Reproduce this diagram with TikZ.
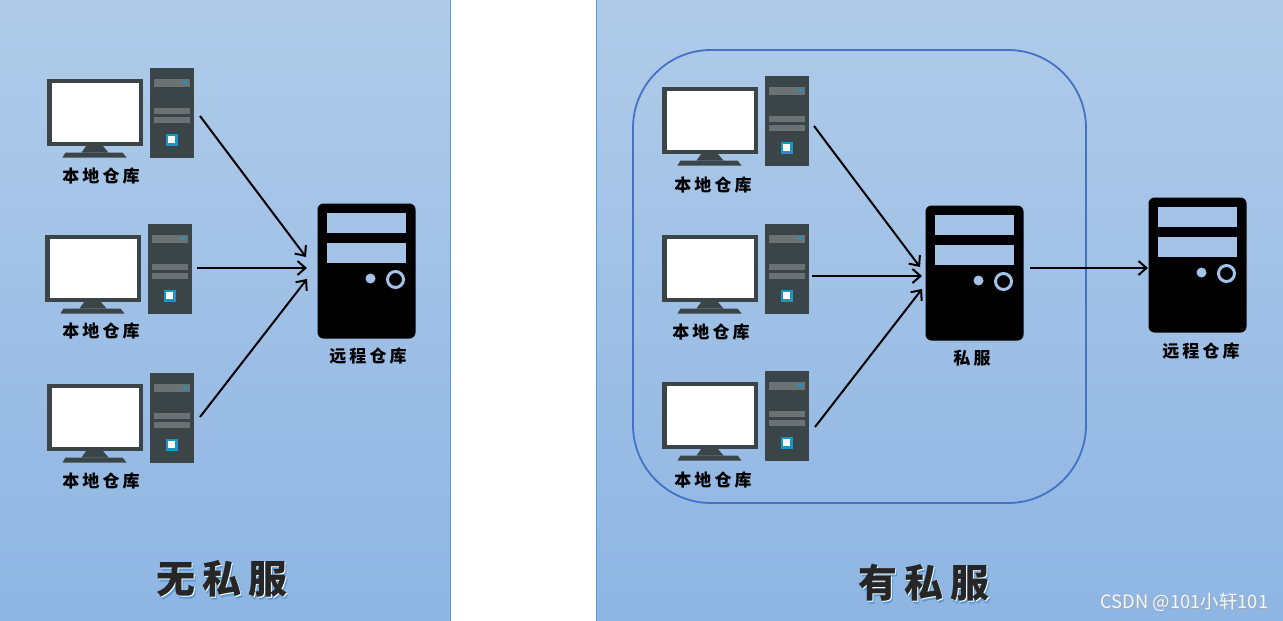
\documentclass[tikz,border=0pt]{standalone}
\usepackage{fontspec}
\usetikzlibrary{arrows.meta}
\newfontfamily\cjklabel[LetterSpace=18]{Noto Sans CJK SC}
\newfontfamily\cjktitle[LetterSpace=18]{Noto Sans CJK SC}
\newfontfamily\cjkmark{Noto Sans CJK SC}
\definecolor{paneltop}{RGB}{176,203,233}
\definecolor{panelbot}{RGB}{142,181,227}
\definecolor{panelline}{RGB}{91,155,213}
\definecolor{cutout}{RGB}{165,195,230}
\definecolor{pcdark}{RGB}{59,69,72}
\definecolor{pcslot}{RGB}{107,114,116}
\definecolor{pcblue}{RGB}{25,150,200}
\definecolor{privline}{RGB}{68,114,196}
\tikzset{
	panel/.style={draw=panelline, line width=0.6pt, top color=paneltop, bottom color=panelbot},
	lbl/.style={font=\cjklabel\fontsize{17}{17}\selectfont\bfseries, text=black, inner sep=0pt},
	ttl/.style={font=\cjktitle\fontsize{39}{39}\selectfont\bfseries, text=#1, inner sep=0pt},
	pc/.pic={
		% Bildschirm
		\fill[pcdark] (0,0) rectangle (96,67);
		\fill[white] (5,4) rectangle (92,63);
		\fill[pcdark] (40,67) -- (56,67) -- (62,74) -- (35,74) -- cycle;
		\fill[pcdark] (19,74) -- (76,74) -- (80,79) -- (16,79) -- cycle;
		% Turm
		\node[fill=pcdark, minimum width=44pt, minimum height=90pt, inner sep=0pt, outer sep=0pt, anchor=north west] (-tower) at (103,-11) {};
		\fill[pcslot] (107,0) rectangle (143,8);
		\fill[pcslot] (107,29) rectangle (143,35);
		\fill[pcslot] (107,38) rectangle (143,44);
		\fill[pcblue] (136,2) rectangle (140,5);
		\fill[pcblue] (119,55) rectangle (131,67);
		\fill[white] (121.5,57.5) rectangle (128.5,64.5);
	},
	srv/.pic={
		\node[fill=black, rounded corners=6pt, minimum width=98pt, minimum height=135pt, inner sep=0pt, outer sep=0pt, anchor=north west] (-box) at (0,0) {};
		\fill[cutout] (9,9) rectangle (88,29);
		\fill[cutout] (9,39) rectangle (88,59);
		\fill[cutout] (53,75) circle (5);
		\draw[cutout, line width=3pt] (78,76) circle (8);
	}
}
\begin{document}
\begin{tikzpicture}[x=1pt, y=-1pt, >={Straight Barb[length=8pt,width=14pt]}, line width=2pt]
	\useasboundingbox (0,0) rectangle (1283,621);
	% Hintergrund
	\fill[white] (0,0) rectangle (1283,621);
	\path[panel] (-2,-2) rectangle (450.5,623);
	\path[panel] (596.5,-2) rectangle (1285,623);
	\draw[privline, line width=1.8pt, rounded corners=78pt] (633,50) rectangle (1086,503);
	% Rechner links
	\pic (pca) at (46.5,78.5) {pc};
	\pic (pcb) at (44.5,234.5) {pc};
	\pic (pcc) at (46.5,383.5) {pc};
	\pic (srva) at (317.5,203.5) {srv};
	% Rechner rechts
	\pic (pcd) at (661.5,86.5) {pc};
	\pic (pce) at (661.5,234.5) {pc};
	\pic (pcf) at (661.5,381.5) {pc};
	\pic (srvb) at (925.5,205.5) {srv};
	\pic (srvc) at (1148.5,197.5) {srv};
	% Pfeile
	\draw[->] ([shift={(6.5,3.5)}]pca-tower.east) -- ([shift={(-11.5,-14)}]srva-box.west);
	\draw[->] ([shift={(5.5,-0.5)}]pcb-tower.east) -- ([shift={(-10.5,-3)}]srva-box.west);
	\draw[->] ([shift={(6.5,-0.5)}]pcc-tower.east) -- ([shift={(-10.5,8)}]srva-box.west);
	\draw[->] ([shift={(5.5,5.5)}]pcd-tower.east) -- ([shift={(-5.5,-6)}]srvb-box.west);
	\draw[->] ([shift={(3.5,7.5)}]pce-tower.east) -- ([shift={(-3.5,3)}]srvb-box.west);
	\draw[->] ([shift={(6.5,11.5)}]pcf-tower.east) -- ([shift={(-3.5,16)}]srvb-box.west);
	\draw[->] ([shift={(6.5,-5)}]srvb-box.east) -- ([shift={(-0.5,3)}]srvc-box.west);
	% Beschriftung
	\node[lbl] (lbla) at (101,176) {本地仓库};
	\node[lbl] (lblb) at (101,331) {本地仓库};
	\node[lbl] (lblc) at (101,481) {本地仓库};
	\node[lbl] (lbld) at (713,185) {本地仓库};
	\node[lbl] (lble) at (711,332) {本地仓库};
	\node[lbl] (lblf) at (713,480) {本地仓库};
	\node[lbl] (lblg) at (368,356) {远程仓库};
	\node[lbl] (lblh) at (972,358) {私服};
	\node[lbl] (lbli) at (1201,351) {远程仓库};
	\foreach \tx/\ty/\tname/\ttext in {222/579/tnoa/无私服, 924/583/tnob/有私服} {
		\node[ttl=panelline] at (\tx+2.5,\ty+2.5) {\ttext};
		\node[ttl=white] at (\tx+0.8,\ty+0.8) {\ttext};
		\node[ttl={black!85}] (\tname) at (\tx,\ty) {\ttext};
	}
	\node[font=\cjkmark\fontsize{18.4}{18.4}\selectfont, text=gray!70, inner sep=0pt] (marka) at (1185,603) {CSDN @101小轩101};
	\node[font=\cjkmark\fontsize{18.4}{18.4}\selectfont, text=white!85!paneltop, inner sep=0pt] (markb) at (1184.4,602.4) {CSDN @101小轩101};
\end{tikzpicture}
\end{document}
